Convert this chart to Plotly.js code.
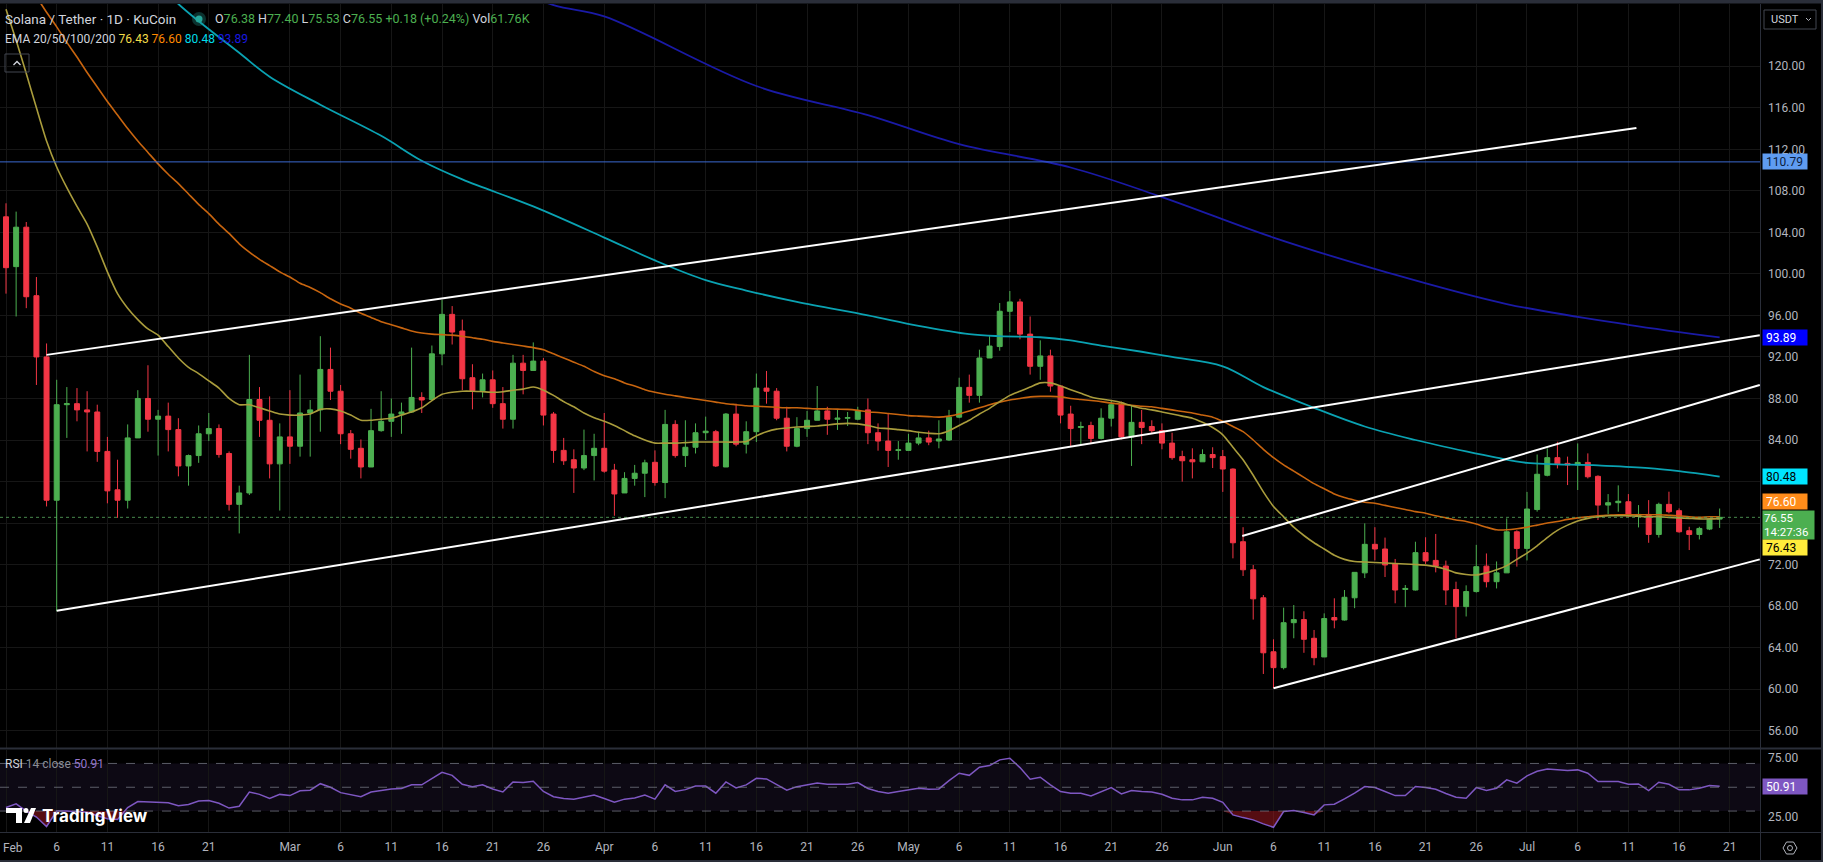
<!DOCTYPE html>
<html><head><meta charset="utf-8">
<script src="https://cdn.plot.ly/plotly-3.0.1.min.js"></script>
<style>html,body{margin:0;padding:0;background:#000;overflow:hidden}</style>
</head><body><div id="chart" style="width:1823px;height:862px"></div>
<script>
// ---------- DATA (daily candles, 2025-02-01 .. 2025-07-20) ----------
const firstDay = '2025-02-01';
const open = [105.5,100.7,104.5,97.9,92.0,78.2,87.4,87.5,86.9,86.7,82.9,79.2,78.2,84.2,88.0,86.0,86.3,85.0,81.5,82.5,84.6,85.1,82.7,77.8,78.9,87.9,85.9,81.7,
84.3,83.4,86.6,86.9,90.8,88.7,84.6,83.2,81.4,84.9,85.8,86.5,86.7,88.1,87.9,92.3,96.1,94.5,90.0,88.75,89.8,87.5,86.0,91.4,90.7,91.6,86.5,83.0,82.1,81.3,82.5,
83.2,81.1,78.9,80.3,80.8,81.85,79.9,85.5,82.5,83.3,84.7,84.8,81.4,86.5,83.6,84.8,89.0,88.7,86.1,83.4,85.1,85.9,86.8,86.0,86.1,86.0,86.9,84.7,83.9,83.0,
83.0,83.7,84.2,83.9,84.0,86.2,89.07,88.3,91.9,93.0,96.4,97.3,94.2,91.1,92.1,89.2,86.5,85.2,85.4,84.15,86.1,87.4,84.3,85.7,85.3,84.9,83.7,82.4,82.1,81.9,82.6,
82.4,81.2,74.2,71.5,68.8,63.6,62.07,66.4,66.7,64.9,63.1,66.9,66.66,68.8,71.2,73.95,73.5,72.06,69.6,69.55,73.15,72.4,71.86,69.6,67.95,69.4,71.85,70.35,71.2,75.16,
73.56,77.3,80.6,82.3,81.75,81.6,81.84,80.5,77.73,77.96,78.05,76.67,76.83,74.9,77.8,77.19,75.26,74.9,75.42,76.38];
const high = [106.8,106.0,105.0,99.7,93.3,89.8,89.1,89.0,88.7,87.4,84.3,82.1,85.5,88.8,91.2,86.9,87.6,86.1,82.6,85.4,86.6,85.5,82.9,79.6,92.2,89.1,88.2,85.6,
88.8,90.3,87.85,94.0,92.9,89.3,84.96,84.05,87.0,88.7,88.0,87.6,92.9,88.6,93.1,97.5,96.9,95.6,91.3,90.4,90.7,89.1,92.2,92.2,93.4,91.9,86.7,84.2,83.1,85.0,84.6,
86.6,81.7,80.9,81.6,82.1,83.0,86.9,85.9,85.9,85.6,86.25,84.97,86.6,87.5,85.8,90.4,90.65,89.0,87.2,86.2,86.8,89.2,87.2,86.9,86.7,87.2,88.0,85.6,86.6,83.9,
84.6,84.8,84.9,85.9,86.9,90.0,90.3,92.7,94.0,97.2,98.35,97.6,95.9,93.6,92.7,89.3,87.3,85.76,85.76,87.05,87.8,87.7,87.27,86.9,85.9,85.6,84.7,82.97,83.2,83.1,83.3,
83.04,81.27,75.6,71.96,69.07,64.8,67.85,68.1,67.5,65.7,67.3,68.75,69.55,71.25,75.97,75.6,74.6,72.54,70.03,74.2,74.63,74.95,72.38,70.35,70.0,73.9,73.07,72.3,76.45,75.3,
79.0,82.6,83.2,83.83,82.4,83.67,82.71,80.6,78.79,79.63,78.79,77.73,78.21,77.96,79.02,77.41,75.64,75.64,76.45,77.40];
const low = [98.1,95.9,96.7,89.3,77.6,67.5,84.2,85.8,82.9,81.9,77.9,76.5,77.4,84.2,84.8,82.5,82.9,80.5,79.6,81.8,83.9,82.3,77.2,75.0,78.7,84.3,80.3,77.2,
81.7,82.4,82.4,84.8,87.85,83.6,82.2,80.3,81.4,84.8,84.3,84.6,86.6,86.6,87.9,91.2,93.2,88.8,86.95,88.1,87.1,85.1,85.1,88.4,90.7,85.4,81.8,81.6,78.9,81.1,80.1,
80.85,76.7,78.9,79.6,78.5,79.6,78.4,82.3,81.4,82.7,84.0,81.4,81.4,83.4,82.7,83.8,87.5,85.9,82.9,83.3,84.3,85.9,84.5,84.97,85.35,85.9,83.6,82.97,81.4,82.1,
82.97,83.5,83.5,83.2,83.9,86.1,87.6,87.6,91.9,92.6,94.4,93.7,90.3,89.8,88.65,85.6,83.4,83.6,83.7,84.06,85.3,84.06,81.5,83.6,84.6,83.1,82.1,79.99,80.3,81.9,81.3,
79.0,72.6,70.9,66.7,61.46,60.08,61.9,64.9,63.5,62.3,63.1,65.86,66.6,67.8,70.7,72.4,70.8,68.27,67.9,69.5,72.06,71.25,68.1,64.9,67.0,69.3,69.8,69.7,71.2,71.8,
72.4,77.1,80.5,81.26,79.66,79.18,80.3,76.29,76.83,77.09,76.61,75.58,74.1,74.6,76.93,75.07,73.4,74.42,75.32,75.53];
const close = [100.6,104.5,97.8,92.0,78.2,87.4,87.5,86.9,86.7,82.9,79.1,78.2,84.2,88.0,86.0,86.3,85.0,81.5,82.5,84.6,85.1,82.6,77.8,78.9,87.9,85.9,81.7,84.3,
83.4,86.6,86.9,90.8,88.7,84.6,83.1,81.4,84.9,85.8,86.5,86.7,88.1,87.85,92.3,96.1,94.4,89.9,88.75,89.8,87.5,86.0,91.4,90.7,91.6,86.4,83.0,82.0,81.3,82.5,83.2,
81.0,78.8,80.3,80.8,81.8,79.9,85.5,82.5,83.3,84.7,84.85,81.5,86.5,83.6,84.8,89.0,88.7,86.1,83.4,85.1,85.9,86.8,86.0,86.1,86.15,86.8,84.7,83.9,83.0,83.05,
83.7,84.2,83.8,84.1,86.2,89.07,88.3,91.9,93.05,96.4,97.3,94.2,91.1,92.1,89.2,86.4,85.1,85.3,84.15,86.1,87.4,84.3,85.7,85.2,84.9,83.7,82.3,82.0,81.9,82.6,82.3,
81.2,74.1,71.5,68.7,63.5,62.07,66.4,66.7,64.8,63.03,66.8,66.66,68.85,71.25,73.95,73.5,71.96,69.55,69.7,73.15,72.35,71.86,69.55,67.95,69.4,71.8,70.35,71.2,75.16,73.56,
77.35,80.7,82.3,81.7,81.6,81.84,80.46,77.73,77.96,78.1,76.67,76.83,74.9,77.8,77.09,75.16,74.9,75.48,76.37,76.55];

// EMA values, one per candle
const ema20 = [125.5,122.5,119.3,116.0,112.8,110.3,108.3,106.5,104.8,102.6,100.2,98.1,96.7,95.6,94.7,94.1,93.0,91.9,91.0,90.4,89.7,89.0,88.0,87.4,87.4,87.1,86.8,86.5,86.4,86.4,
86.5,86.95,87.0,86.8,86.4,85.9,85.9,86.0,86.1,86.4,86.7,87.1,87.8,88.4,88.6,88.7,88.7,88.65,88.6,88.65,88.8,88.9,89.1,88.8,88.3,87.7,87.2,86.6,86.15,85.8,
85.4,84.9,84.4,84.0,83.7,83.7,83.7,83.75,83.8,83.8,83.8,83.8,83.8,83.85,84.4,84.8,85.05,85.15,85.25,85.3,85.35,85.45,85.55,85.6,85.55,85.4,85.15,85.1,85.0,84.9,
84.75,84.65,84.6,84.9,85.4,85.9,86.5,87.05,87.7,88.3,88.7,89.1,89.5,89.5,89.2,88.85,88.5,88.15,87.95,87.8,87.6,87.3,87.05,86.9,86.7,86.5,86.3,86.1,85.7,85.2,
84.5,83.3,82.1,80.6,79.0,77.6,76.6,75.6,74.8,74.1,73.5,72.9,72.5,72.3,72.25,72.2,72.15,72.1,72.05,72.0,71.95,71.8,71.55,71.2,71.05,71.0,71.2,71.5,71.9,72.5,
73.1,73.8,74.6,75.3,75.8,76.2,76.45,76.6,76.7,76.7,76.7,76.65,76.6,76.6,76.55,76.5,76.45,76.4,76.4,76.43];
const ema50 = [131.0,129.6,128.1,126.7,125.2,123.8,122.3,120.9,119.4,118.0,116.6,115.3,114.0,112.8,111.7,110.6,109.6,108.7,107.7,106.7,105.8,104.8,103.9,102.9,102.1,101.4,100.8,100.2,99.7,99.1,
98.7,98.2,97.6,97.1,96.7,96.2,95.8,95.4,95.1,94.8,94.5,94.3,94.2,94.15,94.1,94.0,93.85,93.7,93.5,93.35,93.2,93.05,92.9,92.7,92.3,91.9,91.5,91.1,90.6,90.2,
89.9,89.5,89.2,88.85,88.6,88.4,88.25,88.1,87.95,87.8,87.65,87.5,87.4,87.3,87.25,87.2,87.15,87.1,87.1,87.05,87.0,87.0,86.97,86.95,86.85,86.7,86.65,86.55,86.45,86.35,
86.3,86.25,86.2,86.3,86.5,86.8,87.1,87.4,87.65,87.85,88.0,88.15,88.2,88.2,88.15,88.0,87.9,87.8,87.7,87.55,87.45,87.35,87.25,87.2,87.05,86.9,86.75,86.6,86.4,86.2,
85.8,85.3,84.8,84.0,83.1,82.3,81.6,81.0,80.4,79.8,79.3,78.8,78.45,78.2,78.0,77.9,77.7,77.5,77.3,77.1,76.95,76.7,76.5,76.3,76.15,75.9,75.6,75.35,75.35,75.45,
75.6,75.8,76.0,76.15,76.35,76.5,76.6,76.7,76.75,76.8,76.8,76.8,76.8,76.8,76.75,76.7,76.6,76.55,76.6,76.6];
const ema100Dates = ['2025-02-12','2025-02-18','2025-02-24','2025-02-27','2025-03-04','2025-03-10','2025-03-14','2025-03-18','2025-03-25','2025-04-01','2025-04-06','2025-04-11','2025-04-15','2025-04-20','2025-04-27','2025-05-02','2025-05-07','2025-05-10','2025-05-14','2025-05-17','2025-05-20','2025-05-24','2025-05-27','2025-06-01','2025-06-05','2025-06-10','2025-06-15','2025-06-20','2025-06-25','2025-06-28','2025-07-01','2025-07-08','2025-07-13','2025-07-16','2025-07-20'];
const ema100 = [132.0,126.0,121.3,119.0,116.3,113.3,110.9,109.1,106.5,103.5,101.3,99.4,98.4,97.3,96.0,95.0,94.2,94.0,93.9,93.6,93.1,92.5,92.0,91.1,89.1,87.1,85.3,84.0,82.9,82.3,81.8,81.55,81.3,81.0,80.48];
const ema200Dates = ['2025-03-20','2025-03-27','2025-04-01','2025-04-16','2025-04-27','2025-05-06','2025-05-17','2025-05-26','2025-06-06','2025-06-17','2025-06-29','2025-07-11','2025-07-20'];
const ema200 = [128.5,125.9,124.8,118.1,115.3,112.5,110.25,107.4,103.5,100.2,97.1,95.1,93.89];

const rsi = [33,36,30,25,17,30,30,29.5,29,26,23.5,23,33,38,37.5,37.5,37,34.5,35.5,38.5,38.8,36.5,32.5,34,46,44,40.5,44,
43,47,47.5,53,50,45.5,43.5,42,46,47.5,48.5,49,52,52,57.5,62.5,60,52.5,50.5,52,48.5,46,54.5,54,55,46.5,42,40.5,40,42,43.5,
40.5,37.5,40,41,43.5,40,52,46.5,48,51,51,45,54.5,49.5,52,57.5,57,52,47.5,50.5,52,53.5,52.5,52.5,52.5,54,49,46.5,45,46.5,
47.8,49.2,48.3,48.6,55.6,61.8,60,66.8,68.2,73,74.4,66.5,56.7,58.4,52,46.4,45,45,42.7,46.4,49.7,44.4,47.2,46.4,46,44.1,40.8,39.4,39.4,41.6,40.8,
37.4,26.8,24.5,22.6,19.2,16.4,29.6,30.4,28.7,26.8,35.2,35.7,40.2,45,50.6,49.7,46.4,43,43,50.6,49.7,48.3,44.7,41.6,40.8,49.7,47.2,49.2,56.2,53.4,
59.5,63.4,65.4,64.6,64,64.6,61.8,54.8,54.8,54.8,52.5,52.8,47.2,54.2,52.5,47.8,47.8,49.2,51.4,50.91];

const hLine = 110.79;
const channelLines = [
  {x0:'2025-02-05', y0:92.2, x1:'2025-07-11 19:00', y1:114.06},
  {x0:'2025-02-06', y0:67.55, x1:'2025-07-23 23:00', y1:94.1},
  {x0:'2025-06-02 22:00', y0:74.75, x1:'2025-07-23 23:00', y1:89.3},
  {x0:'2025-06-06', y0:60.08, x1:'2025-07-23 23:00', y1:72.5}
];
const priceTicks = [56,60,64,68,72,76,80,84,88,92,96,100,104,108,112,116,120];
const hiddenTicks = [76,80];   // covered by the price tags in the reference
const dateTicks = ['2025-02-01','2025-02-06','2025-02-11','2025-02-16','2025-02-21','2025-03-01','2025-03-06','2025-03-11','2025-03-16','2025-03-21','2025-03-26',
'2025-04-01','2025-04-06','2025-04-11','2025-04-16','2025-04-21','2025-04-26','2025-05-01','2025-05-06','2025-05-11','2025-05-16','2025-05-21','2025-05-26',
'2025-06-01','2025-06-06','2025-06-11','2025-06-16','2025-06-21','2025-06-26','2025-07-01','2025-07-06','2025-07-11','2025-07-16','2025-07-21'];
const dateTickText = ['Feb','6','11','16','21','Mar','6','11','16','21','26','Apr','6','11','16','21','26','May','6','11','16','21','26','Jun','6','11','16','21','26','Jul','6','11','16','21'];
const volText = '61.76K';
const timerText = '14:27:36';

// ---------- BUILD ----------
const N = open.length;
const dates = [];
for (let i = 0; i < N; i++) { const d = new Date(Date.parse(firstDay + 'T00:00:00Z') + i * 86400000); dates.push(d.toISOString().slice(0,10)); }
const last = N - 1;
const fmt = v => v.toFixed(2);

// pixel helpers for decorations (plot area 0..1760 x 4..832)
const PW = 1760, PT = 4, PB = 832, PH = PB - PT;
const ax = p => p / PW;
const ay = p => (PB - p) / PH;

const GREEN = '#4caf50', RED = '#f23645';
const traces = [
  {type:'candlestick', x:dates, open, high, low, close, xaxis:'x', yaxis:'y',
   increasing:{line:{color:GREEN,width:1}, fillcolor:GREEN},
   decreasing:{line:{color:RED,width:1}, fillcolor:RED},
   whiskerwidth:0, hoverinfo:'skip', showlegend:false},
  {type:'scatter', mode:'lines', x:ema200Dates, y:ema200, line:{color:'#1a1aa6',width:1.8,shape:'spline'}, hoverinfo:'skip', yaxis:'y'},
  {type:'scatter', mode:'lines', x:ema100Dates, y:ema100, line:{color:'#0aa2b2',width:1.8,shape:'spline'}, hoverinfo:'skip', yaxis:'y'},
  {type:'scatter', mode:'lines', x:dates, y:ema50, line:{color:'#c8650f',width:1.6,shape:'spline',smoothing:0.6}, hoverinfo:'skip', yaxis:'y'},
  {type:'scatter', mode:'lines', x:dates, y:ema20, line:{color:'#a99c3c',width:1.6,shape:'spline',smoothing:0.6}, hoverinfo:'skip', yaxis:'y'},
  // RSI oversold fill
  {type:'scatter', mode:'lines', x:dates, y:rsi.map(()=>30), line:{width:0,color:'rgba(0,0,0,0)'}, hoverinfo:'skip', yaxis:'y2'},
  {type:'scatter', mode:'lines', x:dates, y:rsi.map(v=>Math.min(v,30)), fill:'tonexty', fillcolor:'rgba(170,25,35,0.5)', line:{width:0,color:'rgba(0,0,0,0)'}, hoverinfo:'skip', yaxis:'y2'},
  {type:'scatter', mode:'lines', x:dates, y:rsi, line:{color:'#7e57c2',width:1.5}, hoverinfo:'skip', yaxis:'y2'}
];

const shapes = [];
shapes.push({type:'rect', xref:'paper', yref:'y2', x0:0, x1:1, y0:30, y1:70, fillcolor:'rgba(126,87,194,0.10)', line:{width:0}, layer:'below'});
[70,50,30].forEach(v => shapes.push({type:'line', xref:'paper', yref:'y2', x0:0, x1:1, y0:v, y1:v, line:{color:'rgba(120,123,134,0.75)', width:1, dash:'dash'}}));
shapes.push({type:'line', xref:'paper', yref:'y', x0:0, x1:1, y0:hLine, y1:hLine, line:{color:'#3b68cf', width:1}});
shapes.push({type:'line', xref:'paper', yref:'y', x0:0, x1:1, y0:close[last], y1:close[last], line:{color:'rgba(90,170,95,0.8)', width:1, dash:'dot'}});
channelLines.forEach(c => shapes.push({type:'line', xref:'x', yref:'y', x0:c.x0, y0:c.y0, x1:c.x1, y1:c.y1, line:{color:'#ffffff', width:2}}));
const sep = '#2a2e39';
shapes.push({type:'rect', xref:'paper', yref:'paper', x0:ax(0), x1:ax(1823), y0:ay(0), y1:ay(3.5), fillcolor:sep, line:{width:0}});
shapes.push({type:'line', xref:'paper', yref:'paper', x0:ax(0), x1:ax(1823), y0:ay(748.5), y1:ay(748.5), line:{color:sep, width:2}});
shapes.push({type:'line', xref:'paper', yref:'paper', x0:ax(0), x1:ax(1823), y0:ay(832.5), y1:ay(832.5), line:{color:sep, width:1}});
shapes.push({type:'line', xref:'paper', yref:'paper', x0:ax(1760.5), x1:ax(1760.5), y0:ay(4), y1:ay(862), line:{color:sep, width:1}});
shapes.push({type:'line', xref:'paper', yref:'paper', x0:ax(1822), x1:ax(1822), y0:ay(0), y1:ay(862), line:{color:sep, width:2}});
shapes.push({type:'line', xref:'paper', yref:'paper', x0:ax(0), x1:ax(1823), y0:ay(861), y1:ay(861), line:{color:sep, width:2}});
shapes.push({type:'rect', xref:'paper', yref:'paper', x0:ax(1764), x1:ax(1816), y0:ay(29), y1:ay(10), line:{color:'#434651', width:1}});
shapes.push({type:'path', xref:'paper', yref:'paper', path:`M ${ax(1806)} ${ay(18)} L ${ax(1808.5)} ${ay(20.5)} L ${ax(1811)} ${ay(18)}`, line:{color:'#b2b5be', width:1}});
shapes.push({type:'rect', xref:'paper', yref:'paper', x0:ax(5), x1:ax(29), y0:ay(72), y1:ay(54), line:{color:'#434651', width:1}});
shapes.push({type:'path', xref:'paper', yref:'paper', path:`M ${ax(13.5)} ${ay(65)} L ${ax(17)} ${ay(61.5)} L ${ax(20.5)} ${ay(65)}`, line:{color:'#d1d4dc', width:1.3}});
shapes.push({type:'circle', xref:'paper', yref:'paper', x0:ax(192), x1:ax(206), y0:ay(26), y1:ay(12), fillcolor:'rgba(38,166,154,0.3)', line:{width:0}});
shapes.push({type:'circle', xref:'paper', yref:'paper', x0:ax(195.5), x1:ax(202.5), y0:ay(22.5), y1:ay(15.5), fillcolor:'#26a69a', line:{width:0}});
shapes.push({type:'path', xref:'paper', yref:'paper', path:`M ${ax(6)} ${ay(808)} L ${ax(22)} ${ay(808)} L ${ax(22)} ${ay(823)} L ${ax(16)} ${ay(823)} L ${ax(16)} ${ay(813)} L ${ax(6)} ${ay(813)} Z`, fillcolor:'#ffffff', line:{width:0}});
shapes.push({type:'circle', xref:'paper', yref:'paper', x0:ax(23.5), x1:ax(28.5), y0:ay(813), y1:ay(808), fillcolor:'#ffffff', line:{width:0}});
shapes.push({type:'path', xref:'paper', yref:'paper', path:`M ${ax(24)} ${ay(823)} L ${ax(30)} ${ay(823)} L ${ax(36)} ${ay(808)} L ${ax(31)} ${ay(808)} Z`, fillcolor:'#ffffff', line:{width:0}});
shapes.push({type:'path', xref:'paper', yref:'paper', path:`M ${ax(1783)} ${ay(848)} L ${ax(1786.5)} ${ay(842)} L ${ax(1793.5)} ${ay(842)} L ${ax(1797)} ${ay(848)} L ${ax(1793.5)} ${ay(854)} L ${ax(1786.5)} ${ay(854)} Z`, line:{color:'#b2b5be', width:1}});
shapes.push({type:'circle', xref:'paper', yref:'paper', x0:ax(1787.5), x1:ax(1792.5), y0:ay(850.5), y1:ay(845.5), line:{color:'#b2b5be', width:1}});

const annotations = [];
const chg = close[last] - close[last-1];
const pct = chg / close[last-1] * 100;
const G = s => `<span style="color:#4caf50">${s}</span>`;
annotations.push({xref:'paper', yref:'paper', x:ax(3), y:ay(19), xanchor:'left', yanchor:'middle', showarrow:false,
  text:'Solana / Tether · 1D · KuCoin', font:{size:13.5, color:'#d1d4dc'}});
annotations.push({xref:'paper', yref:'paper', x:ax(213), y:ay(19), xanchor:'left', yanchor:'middle', showarrow:false,
  text:`O${G(fmt(open[last]))} H${G(fmt(high[last]))} L${G(fmt(low[last]))} C${G(fmt(close[last]))} ${G((chg>=0?'+':'')+fmt(chg)+' ('+(pct>=0?'+':'')+fmt(pct)+'%)')} Vol${G(volText)}`,
  font:{size:12.5, color:'#d1d4dc'}});
annotations.push({xref:'paper', yref:'paper', x:ax(3), y:ay(39), xanchor:'left', yanchor:'middle', showarrow:false,
  text:`EMA 20/50/100/200 <span style="color:#f2dd4a">${fmt(ema20[last])}</span> <span style="color:#ff8a00">${fmt(ema50[last])}</span> <span style="color:#00dceb">${fmt(ema100[ema100.length-1])}</span> <span style="color:#1818e0">${fmt(ema200[ema200.length-1])}</span>`,
  font:{size:12, color:'#d1d4dc'}});
annotations.push({xref:'paper', yref:'paper', x:ax(3), y:ay(764), xanchor:'left', yanchor:'middle', showarrow:false,
  text:`<span style="color:#d1d4dc">RSI</span> <span style="color:#8a8d96">14 close</span> <span style="color:#9575cd">${fmt(rsi[last])}</span>`, font:{size:12}});
annotations.push({xref:'paper', yref:'paper', x:ax(40), y:ay(816), xanchor:'left', yanchor:'middle', showarrow:false,
  text:'<b>TradingView</b>', font:{size:17, color:'#ffffff', family:'Inter, Roboto, sans-serif'}});
annotations.push({xref:'paper', yref:'paper', x:ax(1769), y:ay(19.5), xanchor:'left', yanchor:'middle', showarrow:false,
  text:'USDT', font:{size:11, color:'#d1d4dc'}});
// first month label at the left edge
annotations.push({xref:'paper', yref:'paper', x:ax(1), y:ay(847.5), xanchor:'left', yanchor:'middle', showarrow:false,
  text:dateTickText[0], font:{size:12, color:'#b2b5be'}});

function tag(yref, val, bg, fg, yshift, extra) {
  annotations.push({xref:'paper', yref:yref, x:1, y:val, xanchor:'left', yanchor:'middle', xshift:2, yshift:yshift||0,
    showarrow:false, text: extra ? fmt(val) + '<br>' + extra : fmt(val), align:'left',
    width: extra ? 49 : 38, height: extra ? 26 : 9, borderpad: extra ? 1 : 3, bgcolor:bg,
    font:{size: extra ? 11.5 : 12, color:fg}});
}
tag('y', hLine, '#5f9cf2', '#0b1c3d', 0);
tag('y', ema200[ema200.length-1], '#0000ff', '#ffffff', 0);
tag('y', ema100[ema100.length-1], '#00e5ff', '#000000', 0);
tag('y', ema50[last], '#ff8c1a', '#ffffff', 15);
tag('y', close[last], '#4caf50', '#ffffff', -7.5, timerText);
tag('y', ema20[last], '#ffeb3b', '#000000', -29);
tag('y2', rsi[last], '#7e57c2', '#ffffff', 0);

const layout = {
  width:1823, height:862, paper_bgcolor:'#000000', plot_bgcolor:'#000000',
  margin:{l:0, r:63, t:PT, b:862-PB},
  font:{family:'Roboto, sans-serif', color:'#b2b5be', size:12},
  showlegend:false, hovermode:false,
  xaxis:{type:'date', range:['2025-01-31 09:48','2025-07-23 23:30'], anchor:'y2',
    tickmode:'array', tickvals:dateTicks, ticktext:dateTickText.map((t,i)=> i===0 ? '' : t), showgrid:true, gridcolor:'#161616', gridwidth:1,
    zeroline:false, showline:false, ticks:'', ticklabelstandoff:6, tickfont:{size:12, color:'#b2b5be'},
    rangeslider:{visible:false}, fixedrange:true},
  yaxis:{domain:[(PB-748)/PH, 1], range:[54.33, 126.0], side:'right', anchor:'x',
    tickmode:'array', tickvals:priceTicks, ticktext:priceTicks.map(v => hiddenTicks.includes(v) ? '' : fmt(v)), showgrid:true, gridcolor:'#161616', gridwidth:1,
    zeroline:false, showline:false, ticks:'', ticklabelstandoff:7, tickfont:{size:12, color:'#b2b5be'}, fixedrange:true},
  yaxis2:{domain:[0, (PB-750)/PH], range:[12.4, 81.3], side:'right', anchor:'x',
    tickmode:'array', tickvals:[25,75], ticktext:['25.00','75.00'], showgrid:false,
    zeroline:false, showline:false, ticks:'', ticklabelstandoff:7, tickfont:{size:12, color:'#b2b5be'}, fixedrange:true},
  shapes, annotations
};
Plotly.newPlot('chart', traces, layout, {displayModeBar:false, staticPlot:true});
</script>
</body></html>
